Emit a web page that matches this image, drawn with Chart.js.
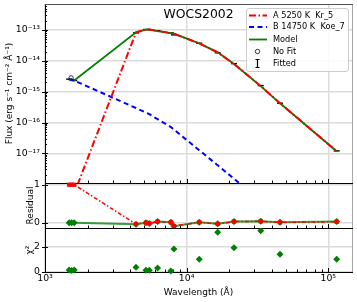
<!DOCTYPE html>
<html>
<head>
<meta charset="utf-8">
<script src="https://cdn.jsdelivr.net/npm/chart.js@4.4.1/dist/chart.umd.min.js"></script>
<style>
html,body{margin:0;padding:0;background:#fff;overflow:hidden;}
#wrap{position:relative;width:357px;height:302px;}
#wrap canvas{position:absolute;left:0;}
</style>
</head>
<body>
<div id="wrap">
<canvas id="cMain" width="357" height="184" style="top:0px"></canvas>
<canvas id="cRes" width="357" height="53" style="top:176px"></canvas>
<canvas id="cChi" width="357" height="74" style="top:228px"></canvas>
</div>
<script>
// ---------------- data ----------------
const wavelength = [1481, 1541, 1608, 4390, 5160, 5450, 6230, 7740, 8130, 12270, 16560, 21590, 33350, 45600, 114600];
const observedFlux = [2.55e-15, 2.45e-15, 2.3e-15, 8.08e-14, 1.04e-13, 1.03e-13, 9.58e-14, 8.08e-14, 6.97e-14, 3.74e-14, 1.83e-14, 8.14e-15, 1.58e-15, 4.24e-16, 1.2e-17];
const modelFlux = [2.55e-15, 2.45e-15, 2.3e-15, 8.4e-14, 1.04e-13, 1.05e-13, 9.3e-14, 8.0e-14, 7.6e-14, 3.7e-14, 1.89e-14, 7.9e-15, 1.52e-15, 4.2e-16, 1.17e-17];
const componentAFlux = [5e-20, 1.5e-19, 5e-19, 8.37e-14, 1.038e-13, 1.048e-13, 9.29e-14, 7.99e-14, 7.59e-14, 3.7e-14, 1.89e-14, 7.9e-15, 1.52e-15, 4.2e-16, 1.17e-17];
const componentBFlux = [2.55e-15, 2.45e-15, 2.3e-15, 2.95e-16, 2.1e-16, 1.86e-16, 1.28e-16, 7.1e-17, 5.9e-17, 1.26e-17, 4.1e-18, 1.5e-18, 2.7e-19, 7.6e-20, 1.9e-21];
const noFitWavelength = [1528];
const noFitFlux = [2.8e-15];
const residualModel = [0.0, 0.0, 0.0, -0.04, 0.0, -0.02, 0.03, 0.01, -0.09, 0.01, -0.03, 0.03, 0.04, 0.01, 0.03];
const residualA = [1.0, 1.0, 1.0, -0.036, 0.002, -0.017, 0.03, 0.011, -0.089, 0.011, -0.033, 0.03, 0.038, 0.01, 0.025];
const chiSquare = [0.15, 0.12, 0.15, 0.37, 0.13, 0.13, 0.32, 0.08, 1.82, 1.0, 3.14, 1.92, 3.26, 1.4, 1.0];

const fluxTickValues = [1e-17, 1e-16, 1e-15, 1e-14, 1e-13];
const fluxTickLabels = ['10⁻¹⁷', '10⁻¹⁶', '10⁻¹⁵', '10⁻¹⁴', '10⁻¹³'];
const wlTickValues = [1e3, 1e4, 1e5];
const wlTickLabels = ['10³', '10⁴', '10⁵'];
const residTickValues = [0, 1];
const chiTickValues = [0, 2];
const legendLabels = ['A 5250 K  Kr_5', 'B 14750 K  Koe_7', 'Model', 'No Fit', 'Fitted'];
const titleText = 'WOCS2002';
const yTitleMain = 'Flux (erg s⁻¹ cm⁻² Å⁻¹)';
const yTitleRes = 'Residual';
const yTitleChi = 'χ²';
const xTitle = 'Wavelength (Å)';

// ---------------- styling ----------------
const FONT = "'DejaVu Sans', sans-serif";
Chart.defaults.font.family = FONT;
Chart.defaults.color = '#000';
Chart.defaults.animation = false;
const GREEN = '#008000';
const GRID = '#dcdcdc';
const pts = (xs, ys) => xs.map((x, i) => ({x: x, y: ys[i]}));

const decoPlugin = {
  id: 'deco',
  beforeDatasetsDraw(chart, args, o) {
    const ctx = chart.ctx, a = chart.chartArea, xs = chart.scales.x, ys = chart.scales.y;
    ctx.save();
    ctx.lineWidth = 1;
    ctx.strokeStyle = '#000';
    ctx.beginPath();
    for (let d = 3; d <= 5; d++) {
      for (let k = 1; k <= 9; k++) {
        const v = k * Math.pow(10, d);
        if (v <= xs.min || v >= xs.max) continue;
        const px = Math.round(xs.getPixelForValue(v)) + 0.5;
        const len = k === 1 ? 4 : 2.5;
        ctx.moveTo(px, a.bottom); ctx.lineTo(px, a.bottom - len);
      }
    }
    if (o.logY) {
      for (let d = -18; d <= -12; d++) {
        for (let k = 1; k <= 9; k++) {
          const v = k * Math.pow(10, d);
          if (v <= ys.min || v >= ys.max) continue;
          const py = Math.round(ys.getPixelForValue(v)) + 0.5;
          if (k === 1) { ctx.moveTo(a.left - 3, py); ctx.lineTo(a.left + 3, py); }
          else { ctx.moveTo(a.left, py); ctx.lineTo(a.left + 2, py); }
        }
      }
    } else {
      o.yticks.forEach(v => {
        const py = Math.round(ys.getPixelForValue(v)) + 0.5;
        ctx.moveTo(a.left - 3, py); ctx.lineTo(a.left + 3, py);
      });
    }
    ctx.stroke();
    // frame
    ctx.beginPath();
    ctx.strokeStyle = '#000';
    ctx.moveTo(a.left + 0.5, a.top); ctx.lineTo(a.left + 0.5, a.bottom + 0.5);
    ctx.moveTo(a.left, a.bottom + 0.5); ctx.lineTo(a.right + 1, a.bottom + 0.5);
    if (o.topLine) { ctx.moveTo(a.left, a.top + 0.5); ctx.lineTo(a.right + 1, a.top + 0.5); }
    ctx.stroke();
    if (o.grayTop) {
      ctx.beginPath();
      ctx.strokeStyle = '#555';
      ctx.moveTo(a.left, a.top + 0.5); ctx.lineTo(a.right + 1, a.top + 0.5);
      ctx.stroke();
    }
    ctx.beginPath();
    ctx.strokeStyle = '#a8a8a8';
    ctx.moveTo(a.right + 0.5, a.top + 1); ctx.lineTo(a.right + 0.5, a.bottom);
    ctx.stroke();
    ctx.restore();
  },
  afterDraw(chart, args, o) {
    if (!o.legend) return;
    const ctx = chart.ctx;
    ctx.save();
    // title
    ctx.font = "12.4px " + FONT;
    ctx.fillStyle = '#000';
    ctx.textAlign = 'center';
    ctx.textBaseline = 'middle';
    ctx.fillText(titleText, 198.5, 15);
    // legend box
    const bx = 246, by = 8, bw = 102, bh = 63;
    ctx.beginPath();
    ctx.roundRect(bx + 0.5, by + 0.5, bw, bh, 2.5);
    ctx.fillStyle = 'rgba(255,255,255,0.85)';
    ctx.fill();
    ctx.strokeStyle = '#cccccc';
    ctx.lineWidth = 1;
    ctx.stroke();
    const rows = [15.5, 27, 39.5, 51.5, 63.5];
    const x0 = 249, x1 = 267, tx = 273;
    const seg = (y, col, dash, w) => {
      ctx.beginPath(); ctx.setLineDash(dash); ctx.strokeStyle = col; ctx.lineWidth = w;
      ctx.moveTo(x0, y); ctx.lineTo(x1, y); ctx.stroke(); ctx.setLineDash([]);
    };
    seg(rows[0], 'red', [7, 2.5, 1.5, 2.5], 2);
    seg(rows[1], 'blue', [5, 3.5], 2);
    seg(rows[2], GREEN, [], 1.8);
    ctx.beginPath(); ctx.strokeStyle = '#000'; ctx.lineWidth = 0.8;
    ctx.arc(257.5, rows[3], 2.2, 0, Math.PI * 2); ctx.stroke();
    ctx.beginPath(); ctx.lineWidth = 1.2;
    ctx.moveTo(257.5, rows[4] - 4); ctx.lineTo(257.5, rows[4] + 4);
    ctx.moveTo(255.5, rows[4] - 4); ctx.lineTo(259.5, rows[4] - 4);
    ctx.moveTo(255.5, rows[4] + 4); ctx.lineTo(259.5, rows[4] + 4);
    ctx.stroke();
    ctx.font = "8.2px " + FONT;
    ctx.fillStyle = '#000';
    ctx.textAlign = 'left';
    legendLabels.forEach((t, i) => ctx.fillText(t, tx, rows[i]));
    ctx.restore();
  }
};

function xScale(showLabels) {
  return {
    type: 'logarithmic', min: 1000, max: 147000,
    afterBuildTicks: s => { s.ticks = wlTickValues.map(v => ({value: v})); },
    ticks: { display: showLabels, autoSkip: false, maxRotation: 0, padding: 1,
      font: {family: FONT, size: 9.3}, color: '#000',
      callback: (v, i) => wlTickLabels[i] },
    grid: { color: GRID, lineWidth: 1.5, drawTicks: false },
    border: { display: false },
    title: showLabels ? { display: true, text: xTitle, font: {family: FONT, size: 9}, padding: {top: 0, bottom: 3.5} } : { display: false },
    afterFit: s => { s.height = showLabels ? 30 : 0; s.paddingLeft = 0; s.paddingRight = 0; }
  };
}

function yScale(extra, titleText, padTop, tickLabels) {
  return Object.assign({
    position: 'left',
    ticks: { autoSkip: false, padding: 5, font: {family: FONT, size: 9.3}, color: '#000',
      callback: tickLabels ? ((v, i) => tickLabels[i]) : (v => String(v)) },
    grid: { color: GRID, lineWidth: 1.5, drawTicks: false },
    border: { display: false },
    title: { display: true, text: titleText, font: {family: FONT, size: 9}, padding: {top: padTop, bottom: 0} },
    afterFit: s => { s.width = 45; s.paddingTop = 0; s.paddingBottom = 0; }
  }, extra);
}

const common = (pad, deco) => ({
  responsive: false, devicePixelRatio: 1, animation: false,
  layout: { autoPadding: false, padding: pad },
  plugins: { legend: {display: false}, tooltip: {enabled: false}, deco: deco }
});

// ---------------- main SED panel ----------------
new Chart(document.getElementById('cMain'), {
  type: 'scatter',
  data: {
    datasets: [
      { data: pts(wavelength, componentAFlux), showLine: true, borderColor: 'red', borderWidth: 2,
        borderDash: [7, 2.5, 1.5, 2.5], pointRadius: 0, clip: 0 },
      { data: pts(wavelength, componentBFlux), showLine: true, borderColor: 'blue', borderWidth: 2,
        borderDash: [5, 3.5], pointRadius: 0, clip: 0 },
      { data: pts(wavelength, modelFlux), showLine: true, borderColor: GREEN, borderWidth: 1.8,
        pointRadius: 0, clip: 0 },
      { data: pts(noFitWavelength, noFitFlux), pointStyle: 'circle', pointRadius: 2.2,
        borderColor: '#000', backgroundColor: 'rgba(0,0,0,0)', borderWidth: 0.8, clip: false },
      { data: pts(wavelength, observedFlux), pointStyle: 'line', pointRadius: 3,
        borderColor: '#000', borderWidth: 1.4, clip: false }
    ]
  },
  options: Object.assign(common({top: 4, bottom: 1, left: 0, right: 5}, { logY: true, legend: true, grayTop: true }), {
    scales: {
      x: xScale(false),
      y: yScale({ type: 'logarithmic', min: 1.09e-18, max: 7e-13,
        afterBuildTicks: s => { s.ticks = fluxTickValues.map(v => ({value: v})); } },
        yTitleMain, 4.6, fluxTickLabels)
    }
  }),
  plugins: [decoPlugin]
});

// ---------------- residual panel ----------------
new Chart(document.getElementById('cRes'), {
  type: 'scatter',
  data: {
    datasets: [
      { data: pts(wavelength, residualA), showLine: true, borderColor: 'red', borderWidth: 1.5,
        borderDash: [4, 2, 1.5, 2], pointStyle: 'rect', pointRadius: 3, pointBorderWidth: 0,
        pointBackgroundColor: 'red', clip: false },
      { data: pts(wavelength, residualModel), showLine: true, borderColor: 'rgba(0,128,0,0.75)', borderWidth: 2,
        pointStyle: 'rectRot', pointRadius: 3.5, pointBorderWidth: 0, pointBackgroundColor: GREEN, clip: false }
    ]
  },
  options: Object.assign(common({top: 7, bottom: 1, left: 0, right: 5}, { logY: false, yticks: residTickValues, topLine: true }), {
    scales: {
      x: xScale(false),
      y: yScale({ type: 'linear', min: -0.139, max: 1.045,
        afterBuildTicks: s => { s.ticks = residTickValues.map(v => ({value: v})); } },
        yTitleRes, 25.3, null)
    }
  }),
  plugins: [decoPlugin]
});

// ---------------- chi-square panel ----------------
new Chart(document.getElementById('cChi'), {
  type: 'scatter',
  data: {
    datasets: [
      { data: pts(wavelength, chiSquare), pointStyle: 'rectRot', pointRadius: 3.5, pointBorderWidth: 0,
        pointBackgroundColor: GREEN, clip: false }
    ]
  },
  options: Object.assign(common({top: 0, bottom: 0, left: 0, right: 5}, { logY: false, yticks: chiTickValues, topLine: true }), {
    scales: {
      x: xScale(true),
      y: yScale({ type: 'linear', min: 0, max: 3.48,
        afterBuildTicks: s => { s.ticks = chiTickValues.map(v => ({value: v})); } },
        yTitleChi, 24.6, null)
    }
  }),
  plugins: [decoPlugin]
});
</script>
</body>
</html>
